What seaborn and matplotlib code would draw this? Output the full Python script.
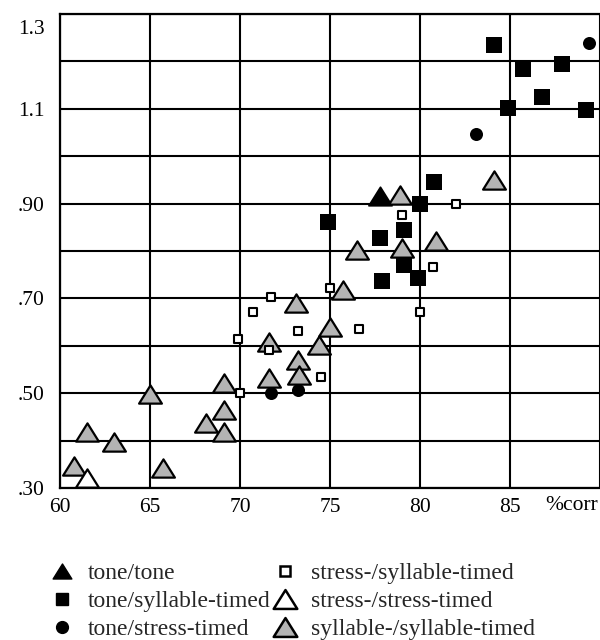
import numpy as np
import pandas as pd
import matplotlib
matplotlib.use("Agg")
import matplotlib.pyplot as plt
import matplotlib.transforms as mtransforms
import seaborn as sns
from matplotlib.lines import Line2D
from matplotlib.path import Path

# --- DATA ---
tone_tone_x = [77.8]
tone_tone_y = [0.915]

tone_syl_x = [84.1, 85.7, 87.9, 86.8, 84.9, 89.2, 80.8, 80.0, 74.9, 77.8, 79.1, 79.1, 77.9, 79.9]
tone_syl_y = [1.234, 1.184, 1.194, 1.125, 1.102, 1.097, 0.946, 0.900, 0.862, 0.828, 0.844, 0.770, 0.737, 0.744]

tone_str_x = [89.4, 83.1, 71.7, 73.2]
tone_str_y = [1.238, 1.047, 0.501, 0.507]

str_syl_x = [82.0, 79.0, 80.7, 75.0, 80.0, 76.6, 73.2, 74.5, 71.7, 70.7, 69.9, 71.6, 70.0]
str_syl_y = [0.900, 0.877, 0.766, 0.721, 0.671, 0.636, 0.631, 0.535, 0.704, 0.672, 0.614, 0.591, 0.501]

str_str_x = [61.5]
str_str_y = [0.322]

syl_syl_x = [84.1, 78.9, 80.9, 79.0, 76.5, 75.7, 73.1, 75.0, 74.4, 73.2, 73.3, 71.6, 71.6,
             69.1, 69.1, 68.1, 69.1, 65.0, 61.5, 63.0, 60.8, 65.7]
syl_syl_y = [0.950, 0.918, 0.822, 0.806, 0.802, 0.718, 0.690, 0.639, 0.602, 0.570, 0.538, 0.609, 0.533,
             0.521, 0.465, 0.438, 0.419, 0.498, 0.419, 0.398, 0.346, 0.342]

ytick_vals = [0.3, 0.5, 0.7, 0.9, 1.1, 1.3]
ytick_labels = [".30", ".50", ".70", ".90", "1.1", "1.3"]
xtick_vals = [60, 65, 70, 75, 80, 85]

# --- STYLE ---
sns.set_theme(style="white")
plt.rcParams['font.family'] = ['Liberation Serif', 'DejaVu Serif']

GRAY = '#b4b4b4'
# closed, slightly wider-than-tall triangle marker
TRI = Path([(0, 0.8), (-1, -0.8), (1, -0.8), (0, 0.8)],
           [Path.MOVETO, Path.LINETO, Path.LINETO, Path.CLOSEPOLY])

fig = plt.figure(figsize=(6, 6.4), dpi=100)
ax = fig.add_axes([0.1, 0.2375, 0.9, 0.7406])

# drawing order matters for overlaps
sns.scatterplot(x=tone_str_x, y=tone_str_y, marker='o', s=88, color='black',
                edgecolor='black', linewidth=0, ax=ax, zorder=3)
sns.scatterplot(x=tone_tone_x, y=tone_tone_y, marker=TRI, s=280, color='black',
                edgecolor='black', linewidth=1.2, ax=ax, zorder=3)
sns.scatterplot(x=syl_syl_x, y=syl_syl_y, marker=TRI, s=270, color=GRAY,
                edgecolor='black', linewidth=1.6, ax=ax, zorder=4)
sns.scatterplot(x=str_str_x, y=str_str_y, marker=TRI, s=270, color='white',
                edgecolor='black', linewidth=1.6, ax=ax, zorder=4)
sns.scatterplot(x=str_syl_x, y=str_syl_y, marker='s', s=40, color='white',
                edgecolor='black', linewidth=1.5, ax=ax, zorder=5)
sns.scatterplot(x=tone_syl_x, y=tone_syl_y, marker='s', s=121, color='black',
                edgecolor='black', linewidth=0, ax=ax, zorder=5)

# --- AXES ---
ax.set_xlim(60, 90)
ax.set_ylim(0.3, 1.3)
ax.set_xticks(xtick_vals)
ax.set_xticklabels([str(v) for v in xtick_vals])
ax.set_yticks(ytick_vals)
ax.set_yticklabels(ytick_labels)
ax.set_yticks(np.arange(0.4, 1.3, 0.2), minor=True)
ax.set_xticks([90], minor=True)
ax.grid(True, which='both', color='black', linewidth=1.5, zorder=1)
ax.set_axisbelow(True)
ax.tick_params(axis='both', which='both', length=0, labelsize=15.5, colors='black')
ax.tick_params(axis='y', pad=11)
ax.tick_params(axis='x', pad=7)
for side in ['left', 'bottom', 'top']:
    ax.spines[side].set_color('black')
    ax.spines[side].set_linewidth(1.6)
ax.spines['right'].set_visible(False)

# top label sits a little below its gridline in the reference
top_lbl = ax.get_yticklabels()[-1]
top_lbl.set_transform(top_lbl.get_transform() +
                      mtransforms.ScaledTranslation(0, -13 / 100, fig.dpi_scale_trans))

ax.text(88.4, -0.016, "%corr", transform=ax.get_xaxis_transform(),
        ha='center', va='top', fontsize=15.5, color='black')

# --- LEGEND ---
handles = [
    Line2D([], [], linestyle='none', marker=TRI, markersize=13.5, color='black'),
    Line2D([], [], linestyle='none', marker='s', markersize=8, color='black'),
    Line2D([], [], linestyle='none', marker='o', markersize=8.5, color='black'),
    Line2D([], [], linestyle='none', marker='s', markersize=7.5, markerfacecolor='white',
           markeredgecolor='black', markeredgewidth=1.8),
    Line2D([], [], linestyle='none', marker=TRI, markersize=17, markerfacecolor='white',
           markeredgecolor='black', markeredgewidth=1.8),
    Line2D([], [], linestyle='none', marker=TRI, markersize=17, markerfacecolor=GRAY,
           markeredgecolor='black', markeredgewidth=1.8),
]
labels = ["tone/tone", "tone/syllable-timed", "tone/stress-timed",
          "stress-/syllable-timed", "stress-/stress-timed", "syllable-/syllable-timed"]
fig.legend(handles, labels, ncol=2, loc='upper left', bbox_to_anchor=(0.08, 0.121),
           frameon=False, fontsize=17, handlelength=1.2, handletextpad=0.5,
           columnspacing=0.0, labelspacing=0.28, borderpad=0, borderaxespad=0)

fig.savefig("out.png", dpi=100)
